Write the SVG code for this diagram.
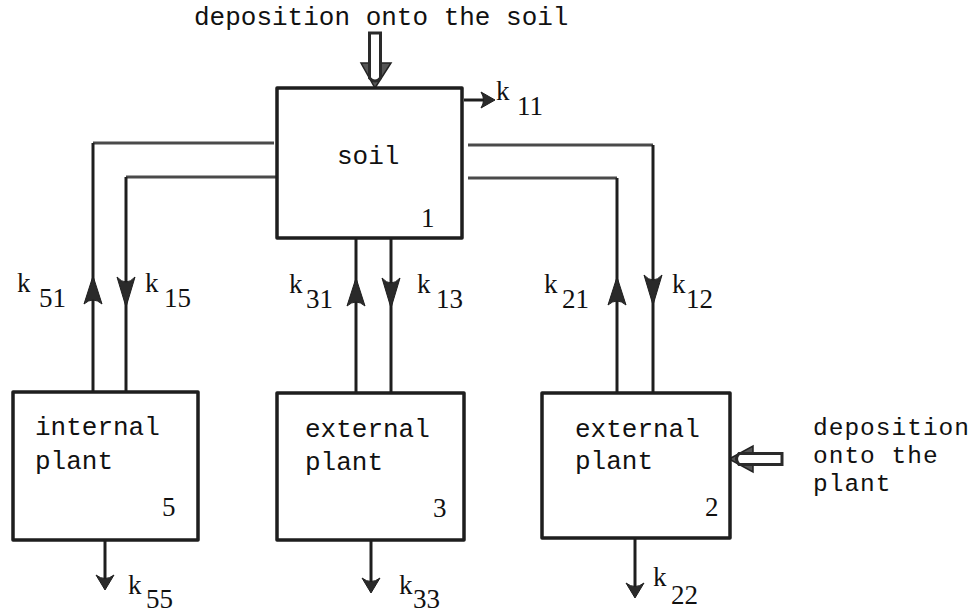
<svg xmlns="http://www.w3.org/2000/svg" width="979" height="615" viewBox="0 0 979 615">
<style>
.bg{fill:#ffffff}
.box{fill:#ffffff;stroke:#1e1e1e;stroke-width:3.5;stroke-linejoin:round}
.ln{fill:none;stroke:#1e1e1e;stroke-width:3;stroke-linejoin:round}
.hl{fill:none;stroke:#4a4a4a;stroke-width:3;stroke-linejoin:round}
.ah{fill:#2a2a2a;stroke:#1e1e1e;stroke-width:1}
.tw{font-family:"Liberation Mono","Courier New",monospace;font-size:26px;fill:#111}
.tws{font-family:"Liberation Mono","Courier New",monospace;font-size:24.5px;letter-spacing:1px;fill:#111}
.kl{font-family:"Liberation Serif","Times New Roman",serif;font-size:27px;fill:#111}
.hol{fill:#ffffff;stroke:#2a2a2a;stroke-width:3}
.holh{fill:#555;stroke:#222;stroke-width:1.5}
</style>
<defs>
<path id="up" d="M0,0 L-9,28 Q0,20 9,28 Z"/>
<path id="dn" d="M0,0 L-9,-30 Q0,-20 9,-30 Z"/>
<path id="sdn" d="M0,0 L-9,-15 Q0,-8 9,-15 Z"/>
</defs>
<rect class="bg" x="0" y="0" width="979" height="615"/>

<g id="connectors">
  <path class="hl" d="M274,143 H93"/>
  <path class="ln" d="M93,143 V392"/>
  <path class="hl" d="M277,177 H126"/>
  <path class="ln" d="M126,177 V392"/>
  <path class="ln" d="M356,238 V393"/>
  <path class="ln" d="M391,238 V393"/>
  <path class="hl" d="M468,178 H617"/>
  <path class="ln" d="M617,178 V393"/>
  <path class="hl" d="M468,145 H653"/>
  <path class="ln" d="M653,145 V393"/>
  <path class="ln" d="M464,100 H488"/>
  <path class="ln" d="M105,540 V586"/>
  <path class="ln" d="M371,540 V589"/>
  <path class="ln" d="M635,538 V594"/>
  <use href="#up" class="ah" x="93" y="276"/>
  <use href="#dn" class="ah" x="126" y="307"/>
  <use href="#up" class="ah" x="356" y="278"/>
  <use href="#dn" class="ah" x="391" y="308"/>
  <use href="#up" class="ah" x="617" y="277"/>
  <use href="#dn" class="ah" x="653" y="305"/>
  <use href="#sdn" class="ah" x="105" y="590"/>
  <use href="#sdn" class="ah" x="371" y="593"/>
  <use href="#sdn" class="ah" x="635" y="598"/>
  <path class="ah" d="M495,100 L481,92 Q486,100 481,108 Z"/>
  <!-- deposition onto the soil arrow -->
  <path class="holh" d="M361,63 L391,63 L375,88 Z"/>
  <path class="hol" d="M369.5,33 H380.5 V78 Q375,84 369.5,78 Z"/>
  <!-- deposition onto the plant arrow -->
  <path class="holh" d="M753,446 L753,472 L729,459 Z"/>
  <path class="hol" d="M782,453.5 V464.5 H739 Q734,459 739,453.5 Z"/>
  <text class="kl" x="17" y="292">k</text><text class="kl" x="39" y="307">51</text>
  <text class="kl" x="145" y="292">k</text><text class="kl" x="164" y="307">15</text>
  <text class="kl" x="289" y="293">k</text><text class="kl" x="306" y="308">31</text>
  <text class="kl" x="417" y="293">k</text><text class="kl" x="436" y="308">13</text>
  <text class="kl" x="544" y="293">k</text><text class="kl" x="562" y="308">21</text>
  <text class="kl" x="672" y="293">k</text><text class="kl" x="686" y="308">12</text>
  <text class="kl" x="496" y="100">k</text><text class="kl" x="517" y="115">11</text>
  <text class="kl" x="128" y="594">k</text><text class="kl" x="146" y="608">55</text>
  <text class="kl" x="399" y="594">k</text><text class="kl" x="413" y="608">33</text>
  <text class="kl" x="653" y="586">k</text><text class="kl" x="671" y="604">22</text>
</g>

<g id="node-soil">
  <rect class="box" x="277" y="88" width="185" height="150"/>
  <text class="tw" x="337" y="164">soil</text>
  <text class="kl" x="421" y="227">1</text>
</g>

<g id="node-internal-plant">
  <rect class="box" x="13" y="392" width="185" height="148"/>
  <text class="tw" x="35" y="435">internal</text>
  <text class="tw" x="35" y="469">plant</text>
  <text class="kl" x="162" y="516">5</text>
</g>

<g id="node-external-plant-3">
  <rect class="box" x="277" y="393" width="187" height="147"/>
  <text class="tw" x="305" y="437">external</text>
  <text class="tw" x="305" y="470">plant</text>
  <text class="kl" x="433" y="517">3</text>
</g>

<g id="node-external-plant-2">
  <rect class="box" x="542" y="393" width="188" height="145"/>
  <text class="tw" x="575" y="437">external</text>
  <text class="tw" x="575" y="469">plant</text>
  <text class="kl" x="705" y="516">2</text>
</g>

<g id="labels">
  <text class="tw" x="194" y="25">deposition onto the soil</text>
  <text class="tws" x="813" y="435">deposition</text>
  <text class="tws" x="813" y="463">onto the</text>
  <text class="tws" x="813" y="491">plant</text>
</g>
</svg>
